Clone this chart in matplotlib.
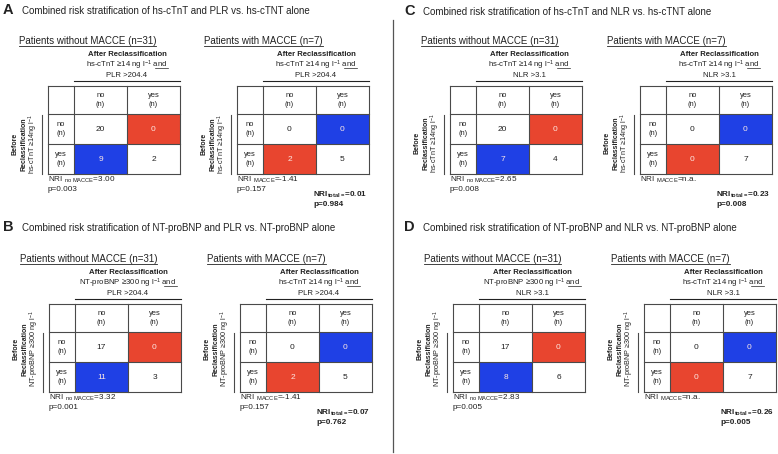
import matplotlib
matplotlib.use("Agg")
import matplotlib.pyplot as plt
from matplotlib.patches import Rectangle

plt.rcParams['font.family'] = ['Liberation Sans', 'DejaVu Sans']
plt.rcParams['mathtext.fontset'] = 'custom'
plt.rcParams['mathtext.rm'] = 'Liberation Sans'
plt.rcParams['mathtext.it'] = 'Liberation Sans:italic'
plt.rcParams['mathtext.bf'] = 'Liberation Sans:bold'
plt.rcParams['mathtext.default'] = 'regular'

# ---- data ----
letters = ['A', 'B', 'C', 'D']
titles = ['Combined risk stratification of hs-cTnT and PLR vs. hs-cTNT alone',
          'Combined risk stratification of NT-proBNP and PLR vs. NT-proBNP alone',
          'Combined risk stratification of hs-cTnT and NLR vs. hs-cTNT alone',
          'Combined risk stratification of NT-proBNP and NLR vs. NT-proBNP alone']
after_left = ['hs-cTnT ≥14 ng l$^{-1}$', 'NT-proBNP ≥300 ng l$^{-1}$',
              'hs-cTnT ≥14 ng l$^{-1}$', 'NT-proBNP ≥300 ng l$^{-1}$']
after_right = ['hs-cTnT ≥14 ng l$^{-1}$'] * 4
combined_with = ['PLR >204.4', 'PLR >204.4', 'NLR >3.1', 'NLR >3.1']
before_lbl = ['hs-cTnT ≥14ng l$^{-1}$', 'NT-proBNP ≥300 ng l$^{-1}$',
              'hs-cTnT ≥14ng l$^{-1}$', 'NT-proBNP ≥300 ng l$^{-1}$']
# cells: [no->no, no->yes, yes->no, yes->yes]
cells_no_macce = [[20, 0, 9, 2], [17, 0, 11, 3], [20, 0, 7, 4], [17, 0, 8, 6]]
cells_macce = [[0, 0, 2, 5], [0, 0, 2, 5], [0, 0, 0, 7], [0, 0, 0, 7]]
nri_no_macce = ['3.00', '3.32', '2.65', '2.83']
p_no_macce = ['0.003', '0.001', '0.008', '0.005']
nri_macce = ['-1.41', '-1.41', 'n.a.', 'n.a.']
p_macce = ['0.157', '0.157', None, None]
nri_total = ['0.01', '0.07', '0.23', '0.26']
p_total = ['0.984', '0.762', '0.008', '0.005']

# ---- layout (pixels) ----
letter_pos = [(3, 14), (3, 231), (404, 15), (404, 231)]
left_tab = [(48, 86), (49, 304), (450, 86), (453, 304)]
right_tab = [(237, 86), (240, 304), (640, 86), (644, 304)]
before_cy = [144, 349, 143, 349]
c0, cw = 26, 53
hh, rh = 28, 30

RED = '#E8452F'
BLUE = '#1F40E5'
TXT = '#222222'
GRID = '#4a4a4a'

fig = plt.figure(figsize=(7.78, 4.54), dpi=100)
ax = fig.add_axes([0, 0, 1, 1])
ax.set_xlim(0, 778)
ax.set_ylim(454, 0)
ax.axis('off')

underlines = []  # (text, mode)


def draw_table(x0, y0, vals, up_col, low_col):
    xs = [x0, x0 + c0, x0 + c0 + cw, x0 + c0 + 2 * cw]
    ys = [y0, y0 + hh, y0 + hh + rh, y0 + hh + 2 * rh]
    ax.add_patch(Rectangle((xs[2], ys[1]), cw, rh, fc=up_col, ec='none'))
    ax.add_patch(Rectangle((xs[1], ys[2]), cw, rh, fc=low_col, ec='none'))
    for x in xs:
        ax.plot([x, x], [ys[0], ys[3]], color=GRID, lw=0.8)
    for y in ys:
        ax.plot([xs[0], xs[3]], [y, y], color=GRID, lw=0.8)
    for i, lab in enumerate(['no\n(n)', 'yes\n(n)']):
        ax.text((xs[i + 1] + xs[i + 2]) / 2, (ys[0] + ys[1]) / 2, lab,
                ha='center', va='center', fontsize=5.4, color=TXT, linespacing=1.45)
        ax.text((xs[0] + xs[1]) / 2, (ys[i + 1] + ys[i + 2]) / 2, lab,
                ha='center', va='center', fontsize=5.4, color=TXT, linespacing=1.45)
    for k, v in enumerate(vals):
        r, c = divmod(k, 2)
        colored = (r, c) in [(0, 1), (1, 0)]
        ax.text((xs[c + 1] + xs[c + 2]) / 2, (ys[r + 1] + ys[r + 2]) / 2 + 0.5, str(v),
                ha='center', va='center', fontsize=6,
                color='#fde8e4' if colored else TXT)
    return xs, ys


def draw_block(i, tab, header_marker, vals, up_col, low_col, patients, right):
    x0, y0 = tab
    xs, ys = draw_table(x0, y0, vals, up_col, low_col)
    cx = (xs[1] + xs[3]) / 2
    t = ax.text(x0 - (33 if right else 29), y0 - 42, patients, fontsize=7.0,
                color=TXT, va='baseline')
    underlines.append((t, 'full'))
    ax.text(cx, y0 - 30.5, 'After Reclassification', ha='center', va='baseline',
            fontsize=5.6, fontweight='bold', color=TXT)
    t2 = ax.text(cx, y0 - 18.8, header_marker + ' and', ha='center', va='baseline',
                 fontsize=5.6, color=TXT)
    underlines.append((t2, 'and'))
    ax.text(cx, y0 - 8.6, combined_with[i], ha='center', va='baseline',
            fontsize=5.6, color=TXT)
    ax.plot([xs[1], xs[3]], [y0 - 5.5, y0 - 5.5], color=TXT, lw=0.8)
    # rotated "Before reclassification" label
    cy = before_cy[i]
    ax.text(x0 - 32.5, cy, 'Before', rotation=90, ha='center', va='center',
            fontsize=5.0, fontweight='bold', color=TXT)
    ax.text(x0 - 23.5, cy, 'Reclassification', rotation=90, ha='center', va='center',
            fontsize=5.0, fontweight='bold', color=TXT)
    ax.text(x0 - 14.5, cy, before_lbl[i], rotation=90, ha='center', va='center',
            fontsize=5.2, color=TXT)
    ax.plot([x0 - 6, x0 - 6], [ys[1] + 1, ys[3]], color=GRID, lw=0.8)
    return xs, ys


for i in range(4):
    lx, ly = letter_pos[i]
    ax.text(lx, ly, letters[i], fontsize=10.5, fontweight='bold', color=TXT, va='baseline')
    ax.text(lx + 19, ly, titles[i], fontsize=7.05, color=TXT, va='baseline')

    xs, ys = draw_block(i, left_tab[i], after_left[i], cells_no_macce[i], RED, BLUE,
                        'Patients without MACCE (n=31)', False)
    ax.text(xs[0], ys[3] + 8, 'NRI $_{no\\ MACCE}$=' + nri_no_macce[i],
            fontsize=5.9, color=TXT, va='baseline')
    ax.text(xs[0], ys[3] + 17, 'p=' + p_no_macce[i], fontsize=5.9, color=TXT, va='baseline')

    xs, ys = draw_block(i, right_tab[i], after_right[i], cells_macce[i], BLUE, RED,
                        'Patients with MACCE (n=7)', True)
    ax.text(xs[0], ys[3] + 8, 'NRI $_{MACCE}$=' + nri_macce[i],
            fontsize=5.9, color=TXT, va='baseline')
    if p_macce[i] is not None:
        ax.text(xs[0], ys[3] + 17, 'p=' + p_macce[i], fontsize=5.9, color=TXT, va='baseline')
    ax.text(xs[2] - 3, ys[3] + 22.5, 'NRI$_{\\mathbf{total=}}$=' + nri_total[i],
            fontsize=5.9, fontweight='bold', color=TXT, va='baseline')
    ax.text(xs[2] - 3, ys[3] + 32, 'p=' + p_total[i], fontsize=5.9,
            fontweight='bold', color=TXT, va='baseline')

# separator between left and right halves
ax.plot([393, 393], [20, 452], color='#555555', lw=0.9)

# underlines
fig.canvas.draw()
r = fig.canvas.get_renderer()
inv = ax.transData.inverted()
for t, mode in underlines:
    bb = t.get_window_extent(r)
    x0d = inv.transform((bb.x0, 0))[0]
    x1d = inv.transform((bb.x1, 0))[0]
    yb = t.get_position()[1]
    if mode == 'full':
        ax.plot([x0d, x1d], [yb + 1.8, yb + 1.8], color=TXT, lw=0.6)
    else:
        tmp = ax.text(0, 0, 'and', fontsize=t.get_fontsize())
        wb = tmp.get_window_extent(r)
        tmp.remove()
        w = inv.transform((wb.x1, 0))[0] - inv.transform((wb.x0, 0))[0]
        ax.plot([x1d - w, x1d], [yb + 1.2, yb + 1.2], color=TXT, lw=0.5)

fig.savefig('out.png', dpi=100)
